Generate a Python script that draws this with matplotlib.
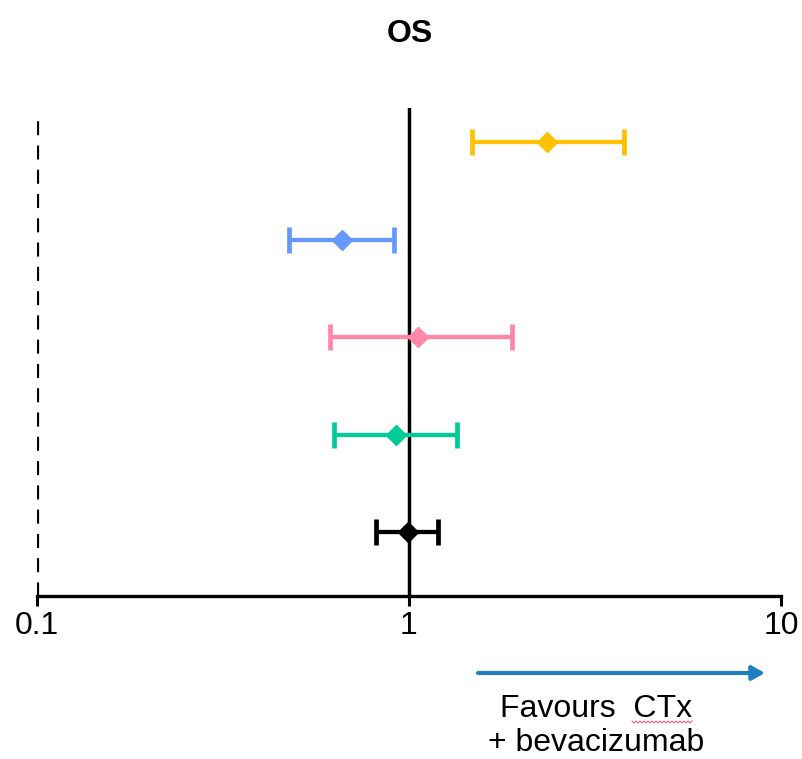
import matplotlib
matplotlib.use("Agg")
import matplotlib.pyplot as plt
import numpy as np
from matplotlib.lines import Line2D

plt.rcParams['font.family'] = ['Liberation Sans', 'DejaVu Sans']

colors = ['#FFC000', '#6699FF', '#FF88A8', '#00CC99', '#000000']
rows = [5, 4, 3, 2, 1]
hr = [2.35, 0.66, 1.06, 0.92, 0.995]
ci_low = [1.48, 0.475, 0.613, 0.629, 0.815]
ci_high = [3.79, 0.91, 1.89, 1.35, 1.20]
tick_vals = [0.1, 1, 10]
tick_labels = ['0.1', '1', '10']

W, H = 803, 759
fig = plt.figure(figsize=(W / 100, H / 100), dpi=100)
ax = fig.add_axes([37 / W, 1 - 596 / H, (781 - 37) / W, (596 - 108) / H])
ax.set_xscale('log')
ax.set_xlim(0.1, 10)
ax.set_ylim(0.344, 5.349)

ax.axvline(1, color='black', lw=2.5, zorder=1)
ax.axvline(0.1, ymin=0, ymax=0.99, color='black', lw=2.3, ls=(0, (4.4, 3.2)), zorder=1)

for y, h, lo, hi, c in zip(rows, hr, ci_low, ci_high, colors):
    ax.errorbar([h], [y], xerr=[[h - lo], [hi - h]], fmt='D', color=c,
                ecolor=c, elinewidth=3.1, capsize=9.7, capthick=3.4,
                markersize=10.5, zorder=3)

for s in ['top', 'right', 'left']:
    ax.spines[s].set_visible(False)
ax.spines['bottom'].set_linewidth(2.4)
ax.set_yticks([])
ax.set_xticks(tick_vals)
ax.set_xticklabels(tick_labels, fontsize=23)
ax.xaxis.set_minor_locator(matplotlib.ticker.NullLocator())
ax.tick_params(axis='x', direction='out', length=7, width=2.2, pad=4)

fig.text(410 / W, 1 - 42 / H, 'OS', ha='center', va='baseline', fontsize=23, fontweight='bold')

ax.annotate('', xy=(765 / W, 1 - 673 / H), xytext=(478 / W, 1 - 673 / H),
            xycoords='figure fraction',
            arrowprops=dict(arrowstyle='-|>,head_length=0.75,head_width=0.42',
                            color='#1F7FC0', lw=3.0, shrinkA=0, shrinkB=0))
fig.text(596 / W, 1 - 717 / H, 'Favours  CTx', ha='center', va='baseline', fontsize=23)
fig.text(596 / W, 1 - 751 / H, '+ bevacizumab', ha='center', va='baseline', fontsize=23)

# spell-check squiggle under "CTx"
sx = np.arange(632, 693, 2.0)
sy = 722 + np.where(np.arange(len(sx)) % 2 == 0, -1.0, 1.0)
fig.add_artist(Line2D(sx / W, 1 - sy / H, transform=fig.transFigure,
                      color='#E8607A', lw=0.8))

fig.savefig('out.png', dpi=100)
